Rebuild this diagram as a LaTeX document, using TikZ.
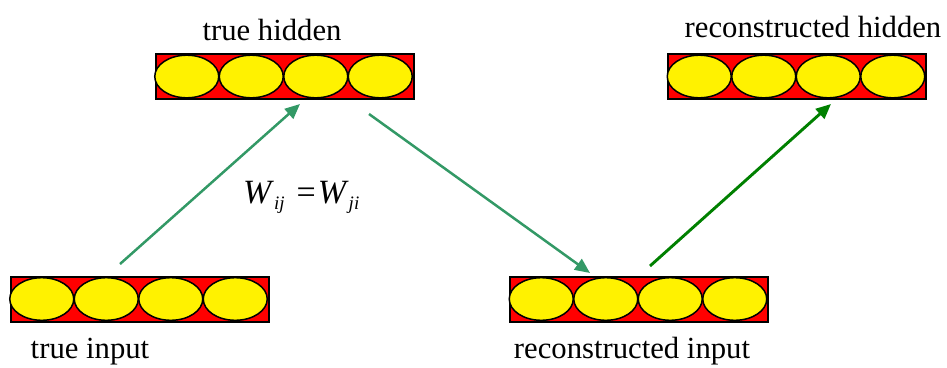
\documentclass[tikz,border=0pt]{standalone}
\usepackage{fontspec}
\setmainfont{Liberation Serif}
\usepackage{xcolor}
\usetikzlibrary{arrows.meta,positioning}

\definecolor{wgreen}{RGB}{51,153,102}
\definecolor{dgreen}{RGB}{0,128,0}
% italic subscript for the weights
\newcommand{\wsub}[1]{\raisebox{-6pt}{\fontsize{19}{19}\selectfont\itshape #1}}

\begin{document}
\begin{tikzpicture}[
			x=1pt, y=-1pt,
			layer/.style={rectangle, draw, fill=red, line width=2pt, minimum width=258pt, minimum height=45pt, inner sep=0pt},
			unit/.style={draw, fill=yellow, line width=1.5pt},
			caption/.style={font=\fontsize{30.7}{34}\selectfont, inner sep=0pt, anchor=base},
			link/.style={draw=wgreen, line width=2.5pt, -{Triangle[length=15pt,width=13pt]}}
			]
			\useasboundingbox (0,0) rectangle (947,367);
			% Layers
			\node [layer] (tin) at (139.5,299) {};
			\node [layer] (thid) at (284.5,76.5) {};
			\node [layer] (rin) at (639,299) {};
			\node [layer] (rhid) at (797,76.5) {};
			% Units
			\foreach \l in {tin,thid,rin,rhid}
				\foreach \k in {0,...,3}
					\draw [unit] ([xshift={32.25pt+\k*64.5pt}]\l.west) ellipse (32pt and 21.3pt);
			
			% Captions
			\node [caption] (tinlbl) at (90,358) {true input};
			\node [caption] (thidlbl) at (272,40) {true hidden};
			\node [caption] (rinlbl) at (632,358) {reconstructed input};
			\node [caption] (rhidlbl) at (813,37) {reconstructed hidden};
			\node [caption, anchor=base west, font=\fontsize{34}{36}\selectfont] (weq) at (243,203)
				{\textit{W}\wsub{ij}\hspace{12pt}=\hspace{2pt}\textit{W}\wsub{ji}};
			
			% Connections
			\path [link] ([xshift=-19.5pt,yshift=11.5pt]tin.north) -- ([xshift=15.5pt,yshift=-4pt]thid.south);
			\path [link] ([xshift=84.5pt,yshift=-14pt]thid.south) -- ([xshift=-49pt,yshift=2.5pt]rin.north);
			\path [link, draw=dgreen, line width=2.9pt] ([xshift=11pt,yshift=9.5pt]rin.north) -- ([xshift=34pt,yshift=-4pt]rhid.south);
		\end{tikzpicture}
\end{document}
